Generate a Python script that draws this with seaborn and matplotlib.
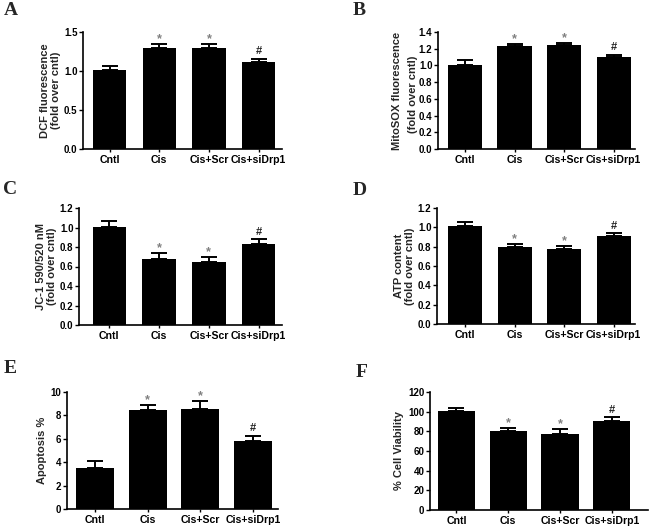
from matplotlib import pyplot as plt
import seaborn as sns
import pandas as pd
import numpy as np

groups = ["Cntl", "Cis", "Cis+Scr", "Cis+siDrp1"]
marks = ["", "*", "*", "#"]

dcf_mean = [1.01, 1.29, 1.30, 1.12]
dcf_err = [0.05, 0.055, 0.04, 0.04]
mitosox_mean = [1.01, 1.23, 1.25, 1.10]
mitosox_err = [0.055, 0.03, 0.02, 0.03]
jc1_mean = [1.01, 0.68, 0.645, 0.835]
jc1_err = [0.06, 0.055, 0.055, 0.042]
atp_mean = [1.015, 0.80, 0.78, 0.91]
atp_err = [0.045, 0.03, 0.025, 0.028]
apop_mean = [3.5, 8.5, 8.53, 5.85]
apop_err = [0.57, 0.38, 0.72, 0.42]
viab_mean = [100.3, 80.5, 77.7, 90.1]
viab_err = [3.5, 3.1, 4.5, 4.1]

sns.set_style("ticks")
plt.rcParams['font.family'] = ['Liberation Sans', 'DejaVu Sans']
plt.rcParams['font.weight'] = 'bold'
plt.rcParams['axes.labelweight'] = 'bold'

W, H = 650, 527
fig = plt.figure(figsize=(6.5, 5.27), dpi=100)

# letter, box (left, top, right, bottom) in px, xlim, ytop, yticks, fmt, ylabel, labelpad, bar width, data, letter pos
panels = [
    ("A", (83, 32, 282, 149), (-0.534, 3.47), 1.5, np.arange(0, 1.51, 0.5), "{:.1f}",
     "DCF fluorescence\n(fold over cntl)", 2, 0.67, dcf_mean, dcf_err, (4, 2)),
    ("B", (438, 32, 635, 149), (-0.545, 3.43), 1.4, np.arange(0, 1.41, 0.2), "{:.1f}",
     "MitoSOX fluorescence", 12, 0.69, mitosox_mean, mitosox_err, (353, 2)),
    ("C", (79, 208, 282, 325), (-0.61, 3.47), 1.2, np.arange(0, 1.21, 0.2), "{:.1f}",
     "JC-1 590/520 nM\n(fold over cntl)", 2, 0.67, jc1_mean, jc1_err, (3, 181)),
    ("D", (437, 208, 635, 324), (-0.566, 3.43), 1.2, np.arange(0, 1.21, 0.2), "{:.1f}",
     "ATP content\n(fold over cntl)", 2, 0.69, atp_mean, atp_err, (353, 182)),
    ("E", (67, 392, 278, 509), (-0.53, 3.47), 10, np.arange(0, 11, 2), "{:.0f}",
     "Apoptosis %", 3, 0.72, apop_mean, apop_err, (4, 360)),
    ("F", (430, 392, 648, 510), (-0.51, 3.7), 120, np.arange(0, 121, 20), "{:.0f}",
     "% Cell Viability", 3, 0.72, viab_mean, viab_err, (356, 364)),
]

for letter, box, xlim, ytop, yticks, fmt, ylabel, lpad, bw, mean, err, lpos in panels:
    l, t, r, b = box
    ax = fig.add_axes([l / W, 1 - b / H, (r - l) / W, (b - t) / H])
    df = pd.DataFrame({"group": groups, "value": mean})
    sns.barplot(data=df, x="group", y="value", color="black", width=bw,
                errorbar=None, ax=ax, linewidth=0)
    x = np.arange(len(groups))
    ax.errorbar(x, mean, yerr=[np.zeros(len(err)), err], fmt="none", ecolor="black",
                elinewidth=1.4, capsize=6, capthick=1.4)
    tops = np.array(mean) + np.array(err)
    for i, m in enumerate(marks):
        if m == "*":
            ax.annotate(m, (x[i], tops[i]), xytext=(0, 3.5), textcoords="offset points",
                        ha="center", va="center", fontsize=9, color="#808080")
        elif m == "#":
            ax.annotate(m, (x[i], tops[i]), xytext=(0, 5.5), textcoords="offset points",
                        ha="center", va="center", fontsize=8, color="#222222")
    ax.set_xlim(*xlim)
    ax.set_ylim(0, ytop)
    ax.set_yticks(yticks)
    ax.set_yticklabels([fmt.format(v) for v in yticks], fontsize=7, fontweight="bold")
    ax.set_xticks(x)
    ax.set_xticklabels(groups, fontsize=7.6, fontweight="bold")
    ax.set_xlabel("")
    ax.set_ylabel(ylabel, fontsize=8, fontweight="bold", labelpad=lpad, linespacing=1.15)
    sns.despine(ax=ax)
    for s in ["left", "bottom"]:
        ax.spines[s].set_linewidth(1.2)
        ax.spines[s].set_color("black")
    ax.tick_params(axis="y", length=3, width=1, pad=1, colors="black")
    ax.tick_params(axis="x", length=2, width=1, pad=2, colors="black")
    ax.patch.set_alpha(0)
    fig.text(lpos[0] / W, 1 - lpos[1] / H, letter, ha="left", va="top",
             fontsize=14, fontweight="bold", family="Liberation Serif")
    if letter == "B":
        # second label line drawn over the axis, as in the original figure
        fig.text(413 / W, 1 - 94 / H, "(fold over cntl)", rotation=90, ha="center",
                 va="center", fontsize=8, fontweight="bold")

fig.savefig("out.png", dpi=100)
